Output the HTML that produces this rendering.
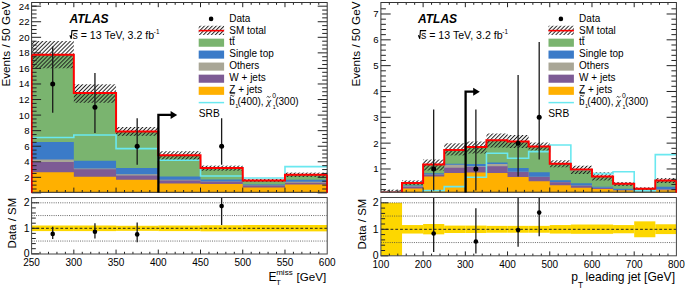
<!DOCTYPE html><html><head><meta charset="utf-8"><title>ATLAS</title><style>
html,body{margin:0;padding:0;background:#fff;width:685px;height:290px;overflow:hidden;}
svg{display:block;} text{font-family:'Liberation Sans', sans-serif;}
</style></head><body>
<svg width="685" height="290" viewBox="0 0 685 290">
<defs>
<pattern id="hatch" patternUnits="userSpaceOnUse" width="2.8" height="10" patternTransform="rotate(45)"><rect x="0" y="0" width="1" height="10" fill="#222"/></pattern>
<clipPath id="cmL"><rect x="31.6" y="2.5" width="295.6" height="189.8"/></clipPath>
<clipPath id="crL"><rect x="31.6" y="197.5" width="295.6" height="56.5"/></clipPath>
<clipPath id="cmR"><rect x="380.9" y="2.5" width="295.5" height="189.7"/></clipPath>
<clipPath id="crR"><rect x="380.9" y="197.5" width="295.5" height="58.3"/></clipPath>
</defs>
<g clip-path="url(#cmL)">
<path d="M31.6 193.3 L31.6 54.8 L73.83 54.8 L73.83 93.1 L116.06 93.1 L116.06 131.6 L158.29 131.6 L158.29 155.2 L200.51 155.2 L200.51 168 L242.74 168 L242.74 180.4 L284.97 180.4 L284.97 174.7 L327.2 174.7 L327.2 193.3Z" fill="#7ab46f"/>
<path d="M31.6 193.3 L31.6 142 L73.83 142 L73.83 160.7 L116.06 160.7 L116.06 168.1 L158.29 168.1 L158.29 176.6 L200.51 176.6 L200.51 179.4 L242.74 179.4 L242.74 184.6 L284.97 184.6 L284.97 179.8 L327.2 179.8 L327.2 193.3Z" fill="#3b7bc8"/>
<path d="M31.6 193.3 L31.6 159.6 L73.83 159.6 L73.83 168.6 L116.06 168.6 L116.06 174.2 L158.29 174.2 L158.29 179.8 L200.51 179.8 L200.51 181.4 L242.74 181.4 L242.74 185.2 L284.97 185.2 L284.97 181.7 L327.2 181.7 L327.2 193.3Z" fill="#a9a696"/>
<path d="M31.6 193.3 L31.6 161.9 L73.83 161.9 L73.83 169.2 L116.06 169.2 L116.06 175.5 L158.29 175.5 L158.29 180.4 L200.51 180.4 L200.51 181.7 L242.74 181.7 L242.74 185.6 L284.97 185.6 L284.97 182.7 L327.2 182.7 L327.2 193.3Z" fill="#7d5b95"/>
<path d="M31.6 193.3 L31.6 172.2 L73.83 172.2 L73.83 176.8 L116.06 176.8 L116.06 179.8 L158.29 179.8 L158.29 183.6 L200.51 183.6 L200.51 184 L242.74 184 L242.74 187.4 L284.97 187.4 L284.97 184.6 L327.2 184.6 L327.2 193.3Z" fill="#ffb000"/>
<rect x="31.6" y="41" width="42.23" height="27.3" fill="url(#hatch)"/>
<rect x="73.83" y="84.3" width="42.23" height="18.5" fill="url(#hatch)"/>
<rect x="116.06" y="127" width="42.23" height="8.8" fill="url(#hatch)"/>
<rect x="158.29" y="151.2" width="42.23" height="8.8" fill="url(#hatch)"/>
<rect x="200.51" y="165.6" width="42.23" height="5.1" fill="url(#hatch)"/>
<rect x="242.74" y="178.9" width="42.23" height="2.9" fill="url(#hatch)"/>
<rect x="284.97" y="172.6" width="42.23" height="4.4" fill="url(#hatch)"/>
<path d="M31.6 137.5 L73.83 137.5 L73.83 135 L116.06 135 L116.06 148.6 L158.29 148.6 L158.29 160.3 L200.51 160.3 L200.51 176 L242.74 176 L242.74 178 L284.97 178 L284.97 166.6 L327.2 166.6" fill="none" stroke="#6ae8f0" stroke-width="1.6"/>
<path d="M31.6 194.3 L31.6 54.8 L73.83 54.8 L73.83 93.1 L116.06 93.1 L116.06 131.6 L158.29 131.6 L158.29 155.2 L200.51 155.2 L200.51 168 L242.74 168 L242.74 180.4 L284.97 180.4 L284.97 174.7 L327.2 174.7 L327.2 194.3" fill="none" stroke="#ff0000" stroke-width="2"/>
</g>
<g clip-path="url(#crL)">
<rect x="31.6" y="225.5" width="42.28" height="5.61" fill="#fdd700"/>
<rect x="73.83" y="225.5" width="42.28" height="5.61" fill="#fdd700"/>
<rect x="116.06" y="225.75" width="42.28" height="5.1" fill="#fdd700"/>
<rect x="158.29" y="225.5" width="42.28" height="5.61" fill="#fdd700"/>
<rect x="200.51" y="225.24" width="42.28" height="6.12" fill="#fdd700"/>
<rect x="242.74" y="224.99" width="42.28" height="6.38" fill="#fdd700"/>
<rect x="284.97" y="224.99" width="42.28" height="6.38" fill="#fdd700"/>
<line x1="31.6" y1="241.05" x2="327.2" y2="241.05" stroke="#444" stroke-width="0.8" stroke-dasharray="1 1.2"/>
<line x1="31.6" y1="215.55" x2="327.2" y2="215.55" stroke="#444" stroke-width="0.8" stroke-dasharray="1 1.2"/>
<line x1="31.6" y1="202.8" x2="327.2" y2="202.8" stroke="#444" stroke-width="0.8" stroke-dasharray="1 1.2"/>
<line x1="31.6" y1="228.3" x2="327.2" y2="228.3" stroke="#222" stroke-width="1" stroke-dasharray="2.8 2"/>
<line x1="52.71" y1="226.77" x2="52.71" y2="239.01" stroke="#1a1a1a" stroke-width="1.3"/>
<circle cx="52.71" cy="233.91" r="2.3" fill="#000"/>
<line x1="94.94" y1="223.2" x2="94.94" y2="238.5" stroke="#1a1a1a" stroke-width="1.3"/>
<circle cx="94.94" cy="231.74" r="2.3" fill="#000"/>
<line x1="137.17" y1="222.44" x2="137.17" y2="242.33" stroke="#1a1a1a" stroke-width="1.3"/>
<circle cx="137.17" cy="234.42" r="2.3" fill="#000"/>
<line x1="221.63" y1="197.5" x2="221.63" y2="224.99" stroke="#1a1a1a" stroke-width="1.3"/>
<circle cx="221.63" cy="206.12" r="2.3" fill="#000"/>
</g>
<g clip-path="url(#cmL)">
<line x1="52.71" y1="46.4" x2="52.71" y2="112.77" stroke="#1a1a1a" stroke-width="1.3"/>
<circle cx="52.71" cy="83.98" r="2.5" fill="#000"/>
<line x1="94.94" y1="73.09" x2="94.94" y2="132.99" stroke="#1a1a1a" stroke-width="1.3"/>
<circle cx="94.94" cy="107.32" r="2.5" fill="#000"/>
<line x1="137.17" y1="118.37" x2="137.17" y2="164.74" stroke="#1a1a1a" stroke-width="1.3"/>
<circle cx="137.17" cy="146.22" r="2.5" fill="#000"/>
<line x1="221.63" y1="118.37" x2="221.63" y2="164.74" stroke="#1a1a1a" stroke-width="1.3"/>
<circle cx="221.63" cy="146.22" r="2.5" fill="#000"/>
</g>
<path d="M40.05 192.3v-2.3M40.05 2.5v2.3M48.49 192.3v-2.3M48.49 2.5v2.3M56.94 192.3v-2.3M56.94 2.5v2.3M65.38 192.3v-2.3M65.38 2.5v2.3M73.83 192.3v-4.7M73.83 2.5v4.7M82.27 192.3v-2.3M82.27 2.5v2.3M90.72 192.3v-2.3M90.72 2.5v2.3M99.17 192.3v-2.3M99.17 2.5v2.3M107.61 192.3v-2.3M107.61 2.5v2.3M116.06 192.3v-4.7M116.06 2.5v4.7M124.5 192.3v-2.3M124.5 2.5v2.3M132.95 192.3v-2.3M132.95 2.5v2.3M141.39 192.3v-2.3M141.39 2.5v2.3M149.84 192.3v-2.3M149.84 2.5v2.3M158.29 192.3v-4.7M158.29 2.5v4.7M166.73 192.3v-2.3M166.73 2.5v2.3M175.18 192.3v-2.3M175.18 2.5v2.3M183.62 192.3v-2.3M183.62 2.5v2.3M192.07 192.3v-2.3M192.07 2.5v2.3M200.51 192.3v-4.7M200.51 2.5v4.7M208.96 192.3v-2.3M208.96 2.5v2.3M217.41 192.3v-2.3M217.41 2.5v2.3M225.85 192.3v-2.3M225.85 2.5v2.3M234.3 192.3v-2.3M234.3 2.5v2.3M242.74 192.3v-4.7M242.74 2.5v4.7M251.19 192.3v-2.3M251.19 2.5v2.3M259.63 192.3v-2.3M259.63 2.5v2.3M268.08 192.3v-2.3M268.08 2.5v2.3M276.53 192.3v-2.3M276.53 2.5v2.3M284.97 192.3v-4.7M284.97 2.5v4.7M293.42 192.3v-2.3M293.42 2.5v2.3M301.86 192.3v-2.3M301.86 2.5v2.3M310.31 192.3v-2.3M310.31 2.5v2.3M318.75 192.3v-2.3M318.75 2.5v2.3M40.05 254v-2.2M48.49 254v-2.2M56.94 254v-2.2M65.38 254v-2.2M73.83 254v-4.4M82.27 254v-2.2M90.72 254v-2.2M99.17 254v-2.2M107.61 254v-2.2M116.06 254v-4.4M124.5 254v-2.2M132.95 254v-2.2M141.39 254v-2.2M149.84 254v-2.2M158.29 254v-4.4M166.73 254v-2.2M175.18 254v-2.2M183.62 254v-2.2M192.07 254v-2.2M200.51 254v-4.4M208.96 254v-2.2M217.41 254v-2.2M225.85 254v-2.2M234.3 254v-2.2M242.74 254v-4.4M251.19 254v-2.2M259.63 254v-2.2M268.08 254v-2.2M276.53 254v-2.2M284.97 254v-4.4M293.42 254v-2.2M301.86 254v-2.2M310.31 254v-2.2M318.75 254v-2.2M31.6 192.9h9.5M327.2 192.9h-9.5M31.6 189.01h5M327.2 189.01h-5M31.6 185.12h5M327.2 185.12h-5M31.6 181.23h5M327.2 181.23h-5M31.6 177.34h9.5M327.2 177.34h-9.5M31.6 173.45h5M327.2 173.45h-5M31.6 169.56h5M327.2 169.56h-5M31.6 165.67h5M327.2 165.67h-5M31.6 161.78h9.5M327.2 161.78h-9.5M31.6 157.89h5M327.2 157.89h-5M31.6 154h5M327.2 154h-5M31.6 150.11h5M327.2 150.11h-5M31.6 146.22h9.5M327.2 146.22h-9.5M31.6 142.33h5M327.2 142.33h-5M31.6 138.44h5M327.2 138.44h-5M31.6 134.55h5M327.2 134.55h-5M31.6 130.66h9.5M327.2 130.66h-9.5M31.6 126.77h5M327.2 126.77h-5M31.6 122.88h5M327.2 122.88h-5M31.6 118.99h5M327.2 118.99h-5M31.6 115.1h9.5M327.2 115.1h-9.5M31.6 111.21h5M327.2 111.21h-5M31.6 107.32h5M327.2 107.32h-5M31.6 103.43h5M327.2 103.43h-5M31.6 99.54h9.5M327.2 99.54h-9.5M31.6 95.65h5M327.2 95.65h-5M31.6 91.76h5M327.2 91.76h-5M31.6 87.87h5M327.2 87.87h-5M31.6 83.98h9.5M327.2 83.98h-9.5M31.6 80.09h5M327.2 80.09h-5M31.6 76.2h5M327.2 76.2h-5M31.6 72.31h5M327.2 72.31h-5M31.6 68.42h9.5M327.2 68.42h-9.5M31.6 64.53h5M327.2 64.53h-5M31.6 60.64h5M327.2 60.64h-5M31.6 56.75h5M327.2 56.75h-5M31.6 52.86h9.5M327.2 52.86h-9.5M31.6 48.97h5M327.2 48.97h-5M31.6 45.08h5M327.2 45.08h-5M31.6 41.19h5M327.2 41.19h-5M31.6 37.3h9.5M327.2 37.3h-9.5M31.6 33.41h5M327.2 33.41h-5M31.6 29.52h5M327.2 29.52h-5M31.6 25.63h5M327.2 25.63h-5M31.6 21.74h9.5M327.2 21.74h-9.5M31.6 17.85h5M327.2 17.85h-5M31.6 13.96h5M327.2 13.96h-5M31.6 10.07h5M327.2 10.07h-5M31.6 6.18h9.5M327.2 6.18h-9.5M31.6 6.18h5M31.6 253.8h7.5M31.6 248.7h4.2M31.6 243.6h4.2M31.6 238.5h4.2M31.6 233.4h4.2M31.6 228.3h7.5M31.6 223.2h4.2M31.6 218.1h4.2M31.6 213h4.2M31.6 207.9h4.2M31.6 202.8h7.5M31.6 197.7h4.2" stroke="#222" stroke-width="1" fill="none"/>
<rect x="31.6" y="2.5" width="295.6" height="189.8" fill="none" stroke="#333" stroke-width="1"/>
<rect x="31.6" y="197.5" width="295.6" height="56.5" fill="none" stroke="#444" stroke-width="1"/>
<g clip-path="url(#cmR)">
<path d="M380.9 193.2 L380.9 192.4 L402.01 192.4 L402.01 182.9 L423.11 182.9 L423.11 164.6 L444.22 164.6 L444.22 150 L465.33 150 L465.33 147 L486.44 147 L486.44 140.3 L507.54 140.3 L507.54 141.5 L528.65 141.5 L528.65 146.4 L549.76 146.4 L549.76 163.8 L570.86 163.8 L570.86 169.6 L591.97 169.6 L591.97 176.5 L613.08 176.5 L613.08 183.8 L634.19 183.8 L634.19 188.7 L655.29 188.7 L655.29 180.5 L676.4 180.5 L676.4 193.2Z" fill="#7ab46f"/>
<path d="M380.9 193.2 L380.9 192.4 L402.01 192.4 L402.01 185.4 L423.11 185.4 L423.11 173.3 L444.22 173.3 L444.22 163.7 L465.33 163.7 L465.33 164 L486.44 164 L486.44 162.5 L507.54 162.5 L507.54 168 L528.65 168 L528.65 172.2 L549.76 172.2 L549.76 180.2 L570.86 180.2 L570.86 183.2 L591.97 183.2 L591.97 186.8 L613.08 186.8 L613.08 188.7 L634.19 188.7 L634.19 190.8 L655.29 190.8 L655.29 186.8 L676.4 186.8 L676.4 193.2Z" fill="#3b7bc8"/>
<path d="M380.9 193.2 L380.9 192.4 L402.01 192.4 L402.01 186.2 L423.11 186.2 L423.11 174.6 L444.22 174.6 L444.22 164.7 L465.33 164.7 L465.33 166.3 L486.44 166.3 L486.44 164 L507.54 164 L507.54 171.8 L528.65 171.8 L528.65 176.7 L549.76 176.7 L549.76 182 L570.86 182 L570.86 185.5 L591.97 185.5 L591.97 187.8 L613.08 187.8 L613.08 190.1 L634.19 190.1 L634.19 191.2 L655.29 191.2 L655.29 189 L676.4 189 L676.4 193.2Z" fill="#a9a696"/>
<path d="M380.9 193.2 L380.9 192.4 L402.01 192.4 L402.01 186.8 L423.11 186.8 L423.11 174.8 L444.22 174.8 L444.22 167.8 L465.33 167.8 L465.33 167 L486.44 167 L486.44 166.3 L507.54 166.3 L507.54 172.1 L528.65 172.1 L528.65 177 L549.76 177 L549.76 182.2 L570.86 182.2 L570.86 185.8 L591.97 185.8 L591.97 188 L613.08 188 L613.08 190.2 L634.19 190.2 L634.19 191.3 L655.29 191.3 L655.29 189.6 L676.4 189.6 L676.4 193.2Z" fill="#7d5b95"/>
<path d="M380.9 193.2 L380.9 192.4 L402.01 192.4 L402.01 188.5 L423.11 188.5 L423.11 176.4 L444.22 176.4 L444.22 173 L465.33 173 L465.33 172.5 L486.44 172.5 L486.44 173 L507.54 173 L507.54 177 L528.65 177 L528.65 181.2 L549.76 181.2 L549.76 185.3 L570.86 185.3 L570.86 187.8 L591.97 187.8 L591.97 189 L613.08 189 L613.08 190.4 L634.19 190.4 L634.19 191.5 L655.29 191.5 L655.29 190.2 L676.4 190.2 L676.4 193.2Z" fill="#ffb000"/>
<rect x="380.9" y="189.6" width="21.11" height="2.7" fill="url(#hatch)"/>
<rect x="402.01" y="180.4" width="21.11" height="4.6" fill="url(#hatch)"/>
<rect x="423.11" y="159.5" width="21.11" height="11" fill="url(#hatch)"/>
<rect x="444.22" y="143.3" width="21.11" height="12.1" fill="url(#hatch)"/>
<rect x="465.33" y="141.5" width="21.11" height="12" fill="url(#hatch)"/>
<rect x="486.44" y="133.5" width="21.11" height="14" fill="url(#hatch)"/>
<rect x="507.54" y="135" width="21.11" height="13" fill="url(#hatch)"/>
<rect x="528.65" y="142.5" width="21.11" height="8" fill="url(#hatch)"/>
<rect x="549.76" y="160.3" width="21.11" height="7" fill="url(#hatch)"/>
<rect x="570.86" y="165.7" width="21.11" height="8.3" fill="url(#hatch)"/>
<rect x="591.97" y="172.3" width="21.11" height="8.2" fill="url(#hatch)"/>
<rect x="613.08" y="182" width="21.11" height="4" fill="url(#hatch)"/>
<rect x="634.19" y="187.3" width="21.11" height="2.9" fill="url(#hatch)"/>
<rect x="655.29" y="178.1" width="21.11" height="4.9" fill="url(#hatch)"/>
<path d="M380.9 192 L402.01 192 L402.01 193.5 L423.11 193.5 L423.11 190.6 L444.22 190.6 L444.22 186.6 L465.33 186.6 L465.33 177.2 L486.44 177.2 L486.44 153.3 L507.54 153.3 L507.54 158.2 L528.65 158.2 L528.65 151.6 L549.76 151.6 L549.76 145 L570.86 145 L570.86 169.8 L591.97 169.8 L591.97 173.6 L613.08 173.6 L613.08 171.8 L634.19 171.8 L634.19 190.9 L655.29 190.9 L655.29 154.6 L676.4 154.6" fill="none" stroke="#6ae8f0" stroke-width="1.6"/>
<path d="M380.9 194.2 L380.9 192.4 L402.01 192.4 L402.01 182.9 L423.11 182.9 L423.11 164.6 L444.22 164.6 L444.22 150 L465.33 150 L465.33 147 L486.44 147 L486.44 140.3 L507.54 140.3 L507.54 141.5 L528.65 141.5 L528.65 146.4 L549.76 146.4 L549.76 163.8 L570.86 163.8 L570.86 169.6 L591.97 169.6 L591.97 176.5 L613.08 176.5 L613.08 183.8 L634.19 183.8 L634.19 188.7 L655.29 188.7 L655.29 180.5 L676.4 180.5 L676.4 194.2" fill="none" stroke="#ff0000" stroke-width="2"/>
</g>
<g clip-path="url(#crR)">
<rect x="380.9" y="202.8" width="21.16" height="53" fill="#fdd700"/>
<rect x="402.01" y="225.06" width="21.16" height="8.48" fill="#fdd700"/>
<rect x="423.11" y="224" width="21.16" height="10.34" fill="#fdd700"/>
<rect x="444.22" y="225.59" width="21.16" height="7.42" fill="#fdd700"/>
<rect x="465.33" y="225.59" width="21.16" height="7.42" fill="#fdd700"/>
<rect x="486.44" y="225.86" width="21.16" height="6.89" fill="#fdd700"/>
<rect x="507.54" y="225.86" width="21.16" height="6.89" fill="#fdd700"/>
<rect x="528.65" y="225.86" width="21.16" height="6.89" fill="#fdd700"/>
<rect x="549.76" y="225.06" width="21.16" height="8.48" fill="#fdd700"/>
<rect x="570.86" y="224.53" width="21.16" height="9.28" fill="#fdd700"/>
<rect x="591.97" y="224.53" width="21.16" height="9.28" fill="#fdd700"/>
<rect x="613.08" y="225.06" width="21.16" height="8.22" fill="#fdd700"/>
<rect x="634.19" y="221.35" width="21.16" height="15.9" fill="#fdd700"/>
<rect x="655.29" y="224.27" width="21.16" height="9.81" fill="#fdd700"/>
<line x1="380.9" y1="242.55" x2="676.4" y2="242.55" stroke="#444" stroke-width="0.8" stroke-dasharray="1 1.2"/>
<line x1="380.9" y1="216.05" x2="676.4" y2="216.05" stroke="#444" stroke-width="0.8" stroke-dasharray="1 1.2"/>
<line x1="380.9" y1="202.8" x2="676.4" y2="202.8" stroke="#444" stroke-width="0.8" stroke-dasharray="1 1.2"/>
<line x1="380.9" y1="229.3" x2="676.4" y2="229.3" stroke="#222" stroke-width="1" stroke-dasharray="2.8 2"/>
<line x1="433.67" y1="197.5" x2="433.67" y2="252.09" stroke="#1a1a1a" stroke-width="1.3"/>
<circle cx="433.67" cy="233.54" r="2.3" fill="#000"/>
<line x1="475.88" y1="208.37" x2="475.88" y2="253.42" stroke="#1a1a1a" stroke-width="1.3"/>
<circle cx="475.88" cy="241.49" r="2.3" fill="#000"/>
<line x1="518.1" y1="197.5" x2="518.1" y2="246.79" stroke="#1a1a1a" stroke-width="1.3"/>
<circle cx="518.1" cy="230.1" r="2.3" fill="#000"/>
<line x1="539.2" y1="197.5" x2="539.2" y2="236.19" stroke="#1a1a1a" stroke-width="1.3"/>
<circle cx="539.2" cy="212.61" r="2.3" fill="#000"/>
</g>
<g clip-path="url(#cmR)">
<line x1="433.67" y1="109.56" x2="433.67" y2="190.41" stroke="#1a1a1a" stroke-width="1.3"/>
<circle cx="433.67" cy="168.97" r="2.5" fill="#000"/>
<line x1="475.88" y1="109.56" x2="475.88" y2="190.41" stroke="#1a1a1a" stroke-width="1.3"/>
<circle cx="475.88" cy="168.97" r="2.5" fill="#000"/>
<line x1="518.1" y1="74.95" x2="518.1" y2="176.46" stroke="#1a1a1a" stroke-width="1.3"/>
<circle cx="518.1" cy="143.14" r="2.5" fill="#000"/>
<line x1="539.2" y1="41.89" x2="539.2" y2="159.41" stroke="#1a1a1a" stroke-width="1.3"/>
<circle cx="539.2" cy="117.31" r="2.5" fill="#000"/>
</g>
<path d="M389.34 192.2v-2.3M389.34 2.5v2.3M397.79 192.2v-2.3M397.79 2.5v2.3M406.23 192.2v-2.3M406.23 2.5v2.3M414.67 192.2v-2.3M414.67 2.5v2.3M423.11 192.2v-4.7M423.11 2.5v4.7M431.56 192.2v-2.3M431.56 2.5v2.3M440 192.2v-2.3M440 2.5v2.3M448.44 192.2v-2.3M448.44 2.5v2.3M456.89 192.2v-2.3M456.89 2.5v2.3M465.33 192.2v-4.7M465.33 2.5v4.7M473.77 192.2v-2.3M473.77 2.5v2.3M482.21 192.2v-2.3M482.21 2.5v2.3M490.66 192.2v-2.3M490.66 2.5v2.3M499.1 192.2v-2.3M499.1 2.5v2.3M507.54 192.2v-4.7M507.54 2.5v4.7M515.99 192.2v-2.3M515.99 2.5v2.3M524.43 192.2v-2.3M524.43 2.5v2.3M532.87 192.2v-2.3M532.87 2.5v2.3M541.31 192.2v-2.3M541.31 2.5v2.3M549.76 192.2v-4.7M549.76 2.5v4.7M558.2 192.2v-2.3M558.2 2.5v2.3M566.64 192.2v-2.3M566.64 2.5v2.3M575.09 192.2v-2.3M575.09 2.5v2.3M583.53 192.2v-2.3M583.53 2.5v2.3M591.97 192.2v-4.7M591.97 2.5v4.7M600.41 192.2v-2.3M600.41 2.5v2.3M608.86 192.2v-2.3M608.86 2.5v2.3M617.3 192.2v-2.3M617.3 2.5v2.3M625.74 192.2v-2.3M625.74 2.5v2.3M634.19 192.2v-4.7M634.19 2.5v4.7M642.63 192.2v-2.3M642.63 2.5v2.3M651.07 192.2v-2.3M651.07 2.5v2.3M659.51 192.2v-2.3M659.51 2.5v2.3M667.96 192.2v-2.3M667.96 2.5v2.3M389.34 255.8v-2.2M397.79 255.8v-2.2M406.23 255.8v-2.2M414.67 255.8v-2.2M423.11 255.8v-4.4M431.56 255.8v-2.2M440 255.8v-2.2M448.44 255.8v-2.2M456.89 255.8v-2.2M465.33 255.8v-4.4M473.77 255.8v-2.2M482.21 255.8v-2.2M490.66 255.8v-2.2M499.1 255.8v-2.2M507.54 255.8v-4.4M515.99 255.8v-2.2M524.43 255.8v-2.2M532.87 255.8v-2.2M541.31 255.8v-2.2M549.76 255.8v-4.4M558.2 255.8v-2.2M566.64 255.8v-2.2M575.09 255.8v-2.2M583.53 255.8v-2.2M591.97 255.8v-4.4M600.41 255.8v-2.2M608.86 255.8v-2.2M617.3 255.8v-2.2M625.74 255.8v-2.2M634.19 255.8v-4.4M642.63 255.8v-2.2M651.07 255.8v-2.2M659.51 255.8v-2.2M667.96 255.8v-2.2M380.9 189.63h5M676.4 189.63h-5M380.9 184.47h5M676.4 184.47h-5M380.9 179.3h5M676.4 179.3h-5M380.9 174.14h5M676.4 174.14h-5M380.9 168.97h9.8M676.4 168.97h-9.8M380.9 163.8h5M676.4 163.8h-5M380.9 158.64h5M676.4 158.64h-5M380.9 153.47h5M676.4 153.47h-5M380.9 148.31h5M676.4 148.31h-5M380.9 143.14h9.8M676.4 143.14h-9.8M380.9 137.97h5M676.4 137.97h-5M380.9 132.81h5M676.4 132.81h-5M380.9 127.64h5M676.4 127.64h-5M380.9 122.48h5M676.4 122.48h-5M380.9 117.31h9.8M676.4 117.31h-9.8M380.9 112.14h5M676.4 112.14h-5M380.9 106.98h5M676.4 106.98h-5M380.9 101.81h5M676.4 101.81h-5M380.9 96.65h5M676.4 96.65h-5M380.9 91.48h9.8M676.4 91.48h-9.8M380.9 86.31h5M676.4 86.31h-5M380.9 81.15h5M676.4 81.15h-5M380.9 75.98h5M676.4 75.98h-5M380.9 70.82h5M676.4 70.82h-5M380.9 65.65h9.8M676.4 65.65h-9.8M380.9 60.48h5M676.4 60.48h-5M380.9 55.32h5M676.4 55.32h-5M380.9 50.15h5M676.4 50.15h-5M380.9 44.99h5M676.4 44.99h-5M380.9 39.82h9.8M676.4 39.82h-9.8M380.9 34.65h5M676.4 34.65h-5M380.9 29.49h5M676.4 29.49h-5M380.9 24.32h5M676.4 24.32h-5M380.9 19.16h5M676.4 19.16h-5M380.9 13.99h9.8M676.4 13.99h-9.8M380.9 8.82h5M676.4 8.82h-5M380.9 255.8h7.5M380.9 250.5h4.2M380.9 245.2h4.2M380.9 239.9h4.2M380.9 234.6h4.2M380.9 229.3h7.5M380.9 224h4.2M380.9 218.7h4.2M380.9 213.4h4.2M380.9 208.1h4.2M380.9 202.8h7.5M380.9 197.5h4.2" stroke="#222" stroke-width="1" fill="none"/>
<rect x="380.9" y="2.5" width="295.5" height="189.7" fill="none" stroke="#333" stroke-width="1"/>
<rect x="380.9" y="197.5" width="295.5" height="58.3" fill="none" stroke="#444" stroke-width="1"/>
<line x1="31.6" y1="54.8" x2="31.6" y2="192.8" stroke="#c00" stroke-width="1.3"/>
<line x1="327.2" y1="174.7" x2="327.2" y2="192.8" stroke="#e00" stroke-width="1.3"/>
<line x1="380.9" y1="192.4" x2="380.9" y2="192.7" stroke="#c00" stroke-width="1.3"/>
<line x1="676.4" y1="180.5" x2="676.4" y2="192.7" stroke="#e00" stroke-width="1.3"/>
<text x="29.5" y="180.74" font-size="9.6" text-anchor="end" >2</text>
<text x="29.5" y="165.18" font-size="9.6" text-anchor="end" >4</text>
<text x="29.5" y="149.62" font-size="9.6" text-anchor="end" >6</text>
<text x="29.5" y="134.06" font-size="9.6" text-anchor="end" >8</text>
<text x="29.5" y="118.5" font-size="9.6" text-anchor="end" >10</text>
<text x="29.5" y="102.94" font-size="9.6" text-anchor="end" >12</text>
<text x="29.5" y="87.38" font-size="9.6" text-anchor="end" >14</text>
<text x="29.5" y="71.82" font-size="9.6" text-anchor="end" >16</text>
<text x="29.5" y="56.26" font-size="9.6" text-anchor="end" >18</text>
<text x="29.5" y="40.7" font-size="9.6" text-anchor="end" >20</text>
<text x="29.5" y="25.14" font-size="9.6" text-anchor="end" >22</text>
<text x="29.5" y="9.58" font-size="9.6" text-anchor="end" >24</text>
<text x="378.5" y="172.37" font-size="9.6" text-anchor="end" >1</text>
<text x="378.5" y="146.54" font-size="9.6" text-anchor="end" >2</text>
<text x="378.5" y="120.71" font-size="9.6" text-anchor="end" >3</text>
<text x="378.5" y="94.88" font-size="9.6" text-anchor="end" >4</text>
<text x="378.5" y="69.05" font-size="9.6" text-anchor="end" >5</text>
<text x="378.5" y="43.22" font-size="9.6" text-anchor="end" >6</text>
<text x="378.5" y="17.39" font-size="9.6" text-anchor="end" >7</text>
<text x="29.5" y="257.3" font-size="10.5" text-anchor="end" >0</text>
<text x="378.5" y="259.3" font-size="10.5" text-anchor="end" >0</text>
<text x="29.5" y="231.8" font-size="10.5" text-anchor="end" >1</text>
<text x="378.5" y="232.8" font-size="10.5" text-anchor="end" >1</text>
<text x="29.5" y="206.3" font-size="10.5" text-anchor="end" >2</text>
<text x="378.5" y="206.3" font-size="10.5" text-anchor="end" >2</text>
<text x="31.6" y="265.5" font-size="10" text-anchor="middle" >250</text>
<text x="73.83" y="265.5" font-size="10" text-anchor="middle" >300</text>
<text x="116.06" y="265.5" font-size="10" text-anchor="middle" >350</text>
<text x="158.29" y="265.5" font-size="10" text-anchor="middle" >400</text>
<text x="200.51" y="265.5" font-size="10" text-anchor="middle" >450</text>
<text x="242.74" y="265.5" font-size="10" text-anchor="middle" >500</text>
<text x="284.97" y="265.5" font-size="10" text-anchor="middle" >550</text>
<text x="327.2" y="265.5" font-size="10" text-anchor="middle" >600</text>
<text x="380.9" y="267.5" font-size="10" text-anchor="middle" >100</text>
<text x="423.11" y="267.5" font-size="10" text-anchor="middle" >200</text>
<text x="465.33" y="267.5" font-size="10" text-anchor="middle" >300</text>
<text x="507.54" y="267.5" font-size="10" text-anchor="middle" >400</text>
<text x="549.76" y="267.5" font-size="10" text-anchor="middle" >500</text>
<text x="591.97" y="267.5" font-size="10" text-anchor="middle" >600</text>
<text x="634.19" y="267.5" font-size="10" text-anchor="middle" >700</text>
<text x="676.4" y="267.5" font-size="10" text-anchor="middle" >800</text>
<text transform="translate(9.6,86.6) rotate(-90)" font-size="11.7">Events / 50 GeV</text>
<text transform="translate(359.6,86.6) rotate(-90)" font-size="11.7">Events / 50 GeV</text>
<text transform="translate(16,248.5) rotate(-90)" font-size="11.4">Data / SM</text>
<text transform="translate(366.1,249.4) rotate(-90)" font-size="11.4">Data / SM</text>
<text x="268.4" y="281" font-size="12">E</text>
<text x="276" y="284.6" font-size="8">T</text>
<text x="276.2" y="275.2" font-size="8">miss</text>
<text x="296.5" y="281" font-size="11.6">[GeV]</text>
<text x="571.3" y="280.5" font-size="12.1">p</text>
<text x="578" y="287.6" font-size="8.4">T</text>
<text x="585.6" y="280.5" font-size="12.1">leading jet [GeV]</text>
<text x="69.5" y="22.7" font-size="12" font-weight="bold" font-style="italic">ATLAS</text>
<path d="M69.9 35.2 L71.3 38.8 L71.9 30.6 H77.7" fill="none" stroke="#000" stroke-width="1.1"/>
<text x="72.5" y="38.7" font-size="10.6">s = 13 TeV, 3.2 fb</text>
<text x="153.8" y="34.4" font-size="6.3">-1</text>
<text x="418" y="22.7" font-size="12" font-weight="bold" font-style="italic">ATLAS</text>
<path d="M418.4 35.2 L419.8 38.8 L420.4 30.6 H426.2" fill="none" stroke="#000" stroke-width="1.1"/>
<text x="421" y="38.7" font-size="10.6">s = 13 TeV, 3.2 fb</text>
<text x="502.3" y="34.4" font-size="6.3">-1</text>
<circle cx="211.1" cy="18.9" r="2.3" fill="#000"/>
<rect x="198.7" y="25.75" width="25.4" height="9.2" fill="url(#hatch)"/>
<line x1="198.7" y1="30.65" x2="224.1" y2="30.65" stroke="#ff0000" stroke-width="1.6"/>
<rect x="198.7" y="38.65" width="25.4" height="8.1" fill="#7ab46f"/>
<rect x="198.7" y="50.55" width="25.4" height="8.1" fill="#3b7bc8"/>
<rect x="198.7" y="62.55" width="25.4" height="8.1" fill="#a9a696"/>
<rect x="198.7" y="74.65" width="25.4" height="8.1" fill="#7d5b95"/>
<rect x="198.7" y="86.75" width="25.4" height="8.1" fill="#ffb000"/>
<line x1="198.7" y1="102.6" x2="224.1" y2="102.6" stroke="#6ae8f0" stroke-width="1.5"/>
<text x="229.3" y="22.2" font-size="10">Data</text>
<text x="229.3" y="34" font-size="10">SM total</text>
<text x="229.3" y="45.1" font-size="10">tt</text>
<line x1="232.3" y1="37" x2="234.9" y2="37" stroke="#000" stroke-width="0.8"/>
<text x="229.3" y="57.4" font-size="10">Single top</text>
<text x="229.3" y="69.4" font-size="10">Others</text>
<text x="229.3" y="81.4" font-size="10">W + jets</text>
<text x="229.3" y="92.8" font-size="10">Z + jets</text>
<line x1="229.7" y1="93.6" x2="235.1" y2="93.6" stroke="#000" stroke-width="0.7"/>
<text x="229.3" y="105.3" font-size="10">b</text>
<text x="235.2" y="107.6" font-size="5.6">1</text>
<text x="237.5" y="105.3" font-size="10">(400),</text>
<text x="266.5" y="105" font-size="10.5" style="font-family:Liberation Serif,serif;font-style:italic">&#967;</text>
<text x="272.8" y="108.6" font-size="5.3">1</text>
<text x="272.2" y="97.9" font-size="6.8">0</text>
<text x="275.2" y="105.3" font-size="10">(300)</text>
<path d="M230.1 96.25 Q231.15 94.63 232.2 95.8 T234.3 95.35" fill="none" stroke="#111" stroke-width="0.9"/>
<path d="M266.8 97.35 Q267.7 95.73 268.6 96.9 T270.4 96.45" fill="none" stroke="#111" stroke-width="0.9"/>
<circle cx="560.9" cy="18.9" r="2.3" fill="#000"/>
<rect x="548.5" y="25.75" width="25.4" height="9.2" fill="url(#hatch)"/>
<line x1="548.5" y1="30.65" x2="573.9" y2="30.65" stroke="#ff0000" stroke-width="1.6"/>
<rect x="548.5" y="38.65" width="25.4" height="8.1" fill="#7ab46f"/>
<rect x="548.5" y="50.55" width="25.4" height="8.1" fill="#3b7bc8"/>
<rect x="548.5" y="62.55" width="25.4" height="8.1" fill="#a9a696"/>
<rect x="548.5" y="74.65" width="25.4" height="8.1" fill="#7d5b95"/>
<rect x="548.5" y="86.75" width="25.4" height="8.1" fill="#ffb000"/>
<line x1="548.5" y1="102.6" x2="573.9" y2="102.6" stroke="#6ae8f0" stroke-width="1.5"/>
<text x="579.1" y="22.2" font-size="10">Data</text>
<text x="579.1" y="34" font-size="10">SM total</text>
<text x="579.1" y="45.1" font-size="10">tt</text>
<line x1="582.1" y1="37" x2="584.7" y2="37" stroke="#000" stroke-width="0.8"/>
<text x="579.1" y="57.4" font-size="10">Single top</text>
<text x="579.1" y="69.4" font-size="10">Others</text>
<text x="579.1" y="81.4" font-size="10">W + jets</text>
<text x="579.1" y="92.8" font-size="10">Z + jets</text>
<line x1="579.5" y1="93.6" x2="584.9" y2="93.6" stroke="#000" stroke-width="0.7"/>
<text x="579.1" y="105.3" font-size="10">b</text>
<text x="585" y="107.6" font-size="5.6">1</text>
<text x="587.3" y="105.3" font-size="10">(400),</text>
<text x="616.3" y="105" font-size="10.5" style="font-family:Liberation Serif,serif;font-style:italic">&#967;</text>
<text x="622.6" y="108.6" font-size="5.3">1</text>
<text x="622" y="97.9" font-size="6.8">0</text>
<text x="625" y="105.3" font-size="10">(300)</text>
<path d="M579.9 96.25 Q580.95 94.63 582 95.8 T584.1 95.35" fill="none" stroke="#111" stroke-width="0.9"/>
<path d="M616.6 97.35 Q617.5 95.73 618.4 96.9 T620.2 96.45" fill="none" stroke="#111" stroke-width="0.9"/>
<text x="198.8" y="117.2" font-size="10.2">SRB</text>
<path d="M158.4 192.4 V114.9 H171.7" fill="none" stroke="#000" stroke-width="2.3"/>
<path d="M170.6 111 L177.2 115 L170.6 118.9 Z" fill="#000"/>
<text x="548.3" y="117.2" font-size="10.2">SRB</text>
<path d="M465.6 192.4 V91.7 H474.3" fill="none" stroke="#000" stroke-width="2.3"/>
<path d="M473.2 87.8 L479.8 91.8 L473.2 95.7 Z" fill="#000"/>
</svg></body></html>
